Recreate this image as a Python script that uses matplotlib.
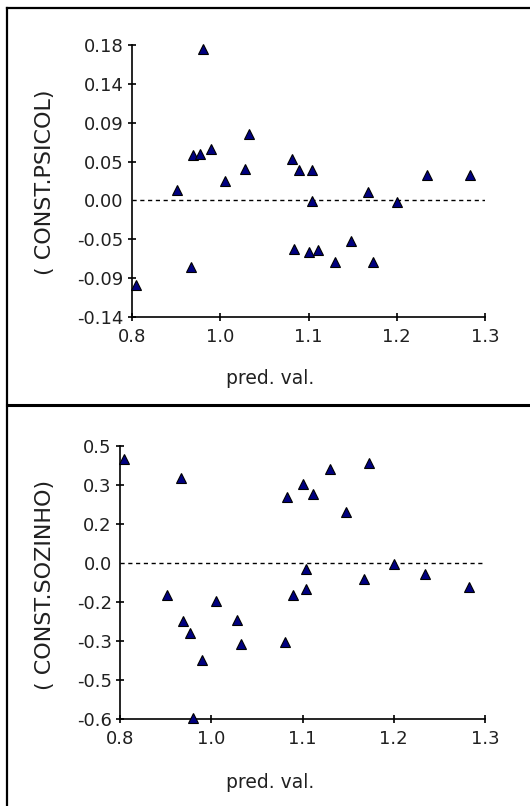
import matplotlib
matplotlib.use("Agg")
import matplotlib.pyplot as plt
from matplotlib.lines import Line2D

# predicted values (shared by both panels)
pred_val = [0.8455, 0.899, 0.917, 0.920, 0.928, 0.932, 0.943, 0.961, 0.987, 0.993,
            1.048, 1.051, 1.058, 1.070, 1.074, 1.075, 1.083, 1.105, 1.125, 1.147,
            1.154, 1.185, 1.225, 1.280]

# residuals, top panel
resid_psicol = [-0.0975, 0.0116, -0.0774, 0.053, 0.0534, 0.175, 0.059, 0.0224, 0.0368, 0.0766,
                0.0484, -0.056, 0.0352, -0.0595, 0.0352, -0.0008, -0.0577, -0.0711, -0.0472, 0.0096,
                -0.0711, -0.002, 0.0294, 0.0294]

# residuals, bottom panel
resid_sozinho = [0.399, -0.122, 0.326, -0.224, -0.269, -0.595, -0.375, -0.145, -0.2215, -0.311,
                 -0.303, 0.253, -0.122, 0.303, -0.023, -0.099, 0.266, 0.362, 0.194, -0.064,
                 0.384, -0.004, -0.041, -0.094]

x_ticks = [0.84, 0.955, 1.07, 1.185, 1.30]
x_labels = ["0.8", "1.0", "1.1", "1.2", "1.3"]

top_ticks = [-0.135, -0.09, -0.045, 0.0, 0.045, 0.09, 0.135, 0.18]
top_labels = ["-0.14", "-0.09", "-0.05", "0.00", "0.05", "0.09", "0.14", "0.18"]

bot_ticks = [-0.6, -0.45, -0.3, -0.15, 0.0, 0.15, 0.3, 0.45]
bot_labels = ["-0.6", "-0.5", "-0.3", "-0.2", "0.0", "0.2", "0.3", "0.5"]

W, H = 530, 806
TXT = '#202020'
plt.rcParams['font.family'] = ['DejaVu Sans']

fig = plt.figure(figsize=(W / 100, H / 100), dpi=100)
fig.patch.set_facecolor('white')


def px_box(left, right, top, bottom):
    return [left / W, 1 - bottom / H, (right - left) / W, (bottom - top) / H]


def draw_panel(ax, yvals, yticks, ylabels, ylabel, ylab_y, xlab_y):
    ax.plot(pred_val, yvals, linestyle='none', marker='^', markersize=7.8,
            markerfacecolor='#000080', markeredgecolor='black', markeredgewidth=0.8,
            clip_on=False, zorder=3)
    ax.plot([x_ticks[0], x_ticks[-1]], [0, 0], color='black', lw=1.0,
            linestyle=(0, (3, 2.6)), zorder=2)
    ax.set_xlim(x_ticks[0], x_ticks[-1])
    ax.set_ylim(yticks[0], yticks[-1])
    ax.set_xticks(x_ticks)
    ax.set_xticklabels(x_labels)
    ax.set_yticks(yticks)
    ax.set_yticklabels(ylabels)
    for side in ('top', 'right'):
        ax.spines[side].set_visible(False)
    for side in ('left', 'bottom'):
        ax.spines[side].set_linewidth(1.2)
    ax.tick_params(axis='both', direction='inout', length=6, width=1.2,
                   labelsize=13, color='black', labelcolor=TXT)
    ax.tick_params(axis='y', pad=3)
    ax.tick_params(axis='x', pad=5)
    # no tick mark where the zero line starts
    zero_idx = yticks.index(0.0)
    ax.yaxis.get_major_ticks()[zero_idx].tick1line.set_visible(False)
    ax.set_facecolor('white')
    fig.text(45 / W, 1 - ylab_y / H, ylabel, rotation=90, ha='center', va='center',
             fontsize=16, color=TXT)
    fig.text(270 / W, 1 - xlab_y / H, "pred. val.", ha='center', va='center',
             fontsize=13.5, color=TXT)


ax1 = fig.add_axes(px_box(132, 485, 45, 317))
draw_panel(ax1, resid_psicol, top_ticks, top_labels, "( CONST.PSICOL)", 182.5, 378)

ax2 = fig.add_axes(px_box(120, 485, 445.7, 719))
draw_panel(ax2, resid_sozinho, bot_ticks, bot_labels, "( CONST.SOZINHO)", 585, 782)

# panel frames
fig.add_artist(Line2D([6.5 / W, 6.5 / W], [0, 1 - 7.5 / H], transform=fig.transFigure,
                      color='black', lw=1.6))
fig.add_artist(Line2D([6.5 / W, 1], [1 - 7.5 / H, 1 - 7.5 / H], transform=fig.transFigure,
                      color='black', lw=1.6))
fig.add_artist(Line2D([6.5 / W, 1], [1 - 405 / H, 1 - 405 / H], transform=fig.transFigure,
                      color='black', lw=2.2))

fig.savefig("out.png", dpi=100)
